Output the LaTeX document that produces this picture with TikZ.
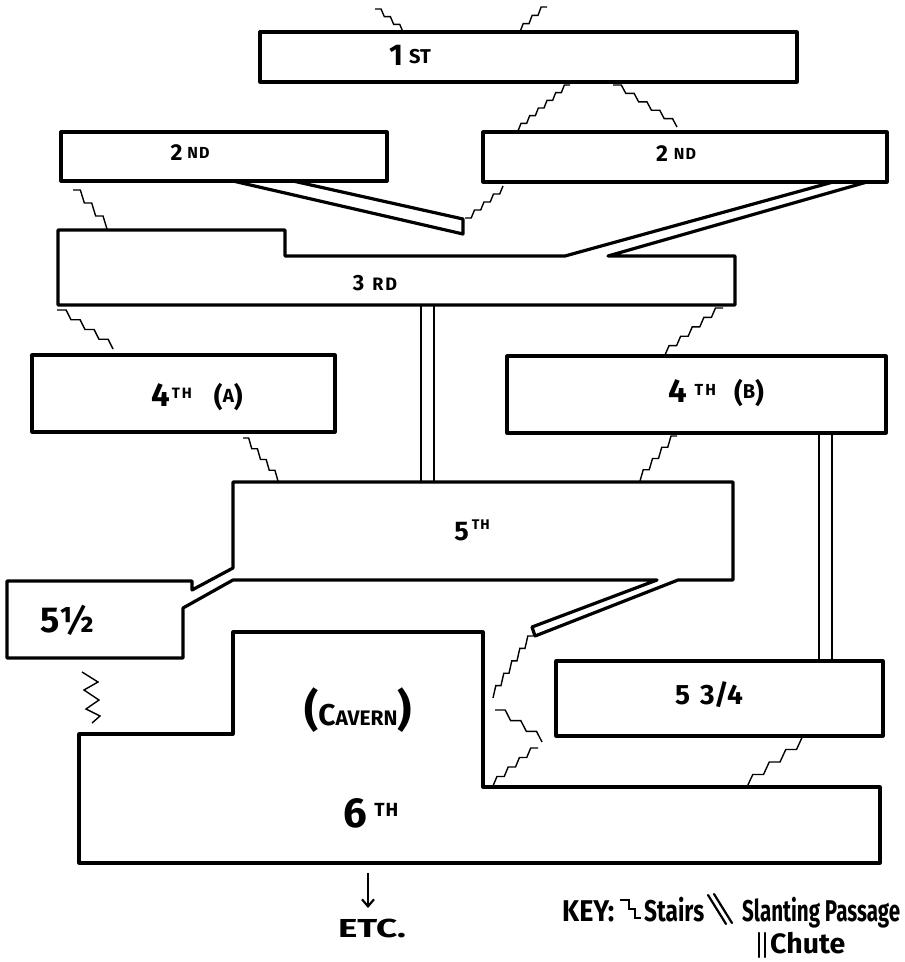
\documentclass[tikz,border=0pt]{standalone}
\usepackage{fontspec}
\setmainfont{Fira Sans}
\usepackage{graphicx}
\usetikzlibrary{arrows.meta,calc}
\newcommand\fs[1]{\fontsize{#1}{#1}\selectfont}
\newcommand\stairsfrom[3]{%
  \path (#1); \pgfgetlastxy{\stxa}{\stya}%
  \path (#2); \pgfgetlastxy{\stxb}{\styb}%
  \pgfmathsetmacro\stdx{(\stxb-\stxa)/#3}%
  \pgfmathsetmacro\stdy{(\styb-\stya)/#3}%
  \draw[stairline] (#1) \foreach \k in {1,...,#3}{ -- ++({0.65*(\stdx)*1pt},0pt) -- ++({0.35*(\stdx)*1pt},{(\stdy)*1pt})};%
}
\begin{document}
\begin{tikzpicture}[x=1pt,y=-1pt,
  wall/.style={line width=3.2pt,line join=round,line cap=round},
  chuteline/.style={line width=2.8pt},
  stairline/.style={line width=1.4pt,line join=miter},
  keyline/.style={line width=2.2pt,line cap=round},
  lbl/.style={inner sep=0pt,font=\bfseries},
  keytext/.style={inner sep=0pt,anchor=base west,font=\bfseries\fs{30}}]
\useasboundingbox[fill=white] (0,0) rectangle (905,962);

% chutes
\draw[chuteline] (421,305) -- (421,482);
\draw[chuteline] (434,305) -- (434,482);
\draw[chuteline] (819,433) -- (819,661);
\draw[chuteline] (832,433) -- (832,661);

% 1st
\draw[wall] (260,32) rectangle (797,82);
% 2nd left and right
\draw[wall] (61,132) rectangle (387,181);
\draw[wall] (483,132) rectangle (887,182);
% slanting passage from 2nd left
\draw[wall] (293,181) -- (463,219) -- (463,234) -- (233,181);
% 3rd with passage to 2nd right
\draw[wall] (867,182) -- (608,256) -- (735,256) -- (735,305) -- (58,305) -- (58,230)
  -- (285,230) -- (285,256) -- (565,256) -- (833,182);
% 4th A, 4th B
\draw[wall] (32,355) rectangle (335,432);
\draw[wall] (507,356) rectangle (886,433);
% 5th with 5 1/2 and passage
\draw[wall] (233,568) -- (233,482) -- (733,482) -- (733,580) -- (678,580) -- (535,636)
  -- (532,627) -- (657,580) -- (233,580) -- (183,608) -- (183,658) -- (7,658)
  -- (7,581) -- (192,581) -- (192,590) -- cycle;
% 5 3/4
\draw[wall] (556,661) rectangle (883,736);
% cavern / 6th
\draw[wall] (233,632) -- (483,632) -- (483,787) -- (880,787) -- (880,863) -- (79,863)
  -- (79,734) -- (233,734) -- cycle;

% stair end points
\coordinate (sa1) at (375,9);   \coordinate (sa2) at (403,32);
\coordinate (sb1) at (547,7);   \coordinate (sb2) at (520,32);
\coordinate (sc1) at (570,85);  \coordinate (sc2) at (518,131);
\coordinate (sd1) at (613,85);  \coordinate (sd2) at (677,127);
\coordinate (se1) at (73,190);  \coordinate (se2) at (107,229);
\coordinate (sf1) at (465,218); \coordinate (sf2) at (503,186);
\coordinate (sg1) at (57,310);  \coordinate (sg2) at (113,349);
\coordinate (sh1) at (723,308); \coordinate (sh2) at (665,355);
\coordinate (si1) at (243,438); \coordinate (si2) at (278,481);
\coordinate (sj1) at (677,436); \coordinate (sj2) at (640,481);
\coordinate (sk1) at (533,636); \coordinate (sk2) at (493,698);
\coordinate (sl1) at (495,710); \coordinate (sl2) at (542,742);
\coordinate (sm1) at (538,748); \coordinate (sm2) at (493,786);
\coordinate (sn1) at (813,737); \coordinate (sn2) at (747,787);
\stairsfrom{sa1}{sa2}{3}
\stairsfrom{sb1}{sb2}{3}
\stairsfrom{sc1}{sc2}{6}
\stairsfrom{sd1}{sd2}{5}
\stairsfrom{se1}{se2}{3}
\stairsfrom{sf1}{sf2}{4}
\stairsfrom{sg1}{sg2}{4}
\stairsfrom{sh1}{sh2}{5}
\stairsfrom{si1}{si2}{4}
\stairsfrom{sj1}{sj2}{4}
\stairsfrom{sk1}{sk2}{5}
\stairsfrom{sl1}{sl2}{3}
\stairsfrom{sm1}{sm2}{4}
\stairsfrom{sn1}{sn2}{4}
% zigzag stairs 5 1/2 to cavern
\coordinate (zz1) at (82,672); \coordinate (zz2) at (92,723);
\draw[stairline] (zz1) -- (98,682) -- (84,690) -- (99,700) -- (86,709) -- (100,716) -- (zz2);

% labels
\node[lbl] (t1) at (410,55) {\fs{30}1\hspace{6pt}\raisebox{2pt}{\fs{20}ST}};
\node[lbl] (t2a) at (190,153) {\fs{23}2\hspace{5pt}\raisebox{2pt}{\fs{16}N\hspace{1pt}D}};
\node[lbl] (t2b) at (676,154) {\fs{23}2\hspace{6pt}\raisebox{2pt}{\fs{16}N\hspace{1pt}D}};
\node[lbl] (t3) at (375,283) {\fs{22}3\hspace{8pt}\fs{18}R\hspace{2pt}D};
\node[lbl] (t4a) at (197,397) {\fs{33}4\hspace{2pt}\raisebox{8pt}{\fs{15}T\hspace{2pt}H}\hspace{22pt}\fs{27}(\raisebox{4pt}{\fs{19}A})};
\node[lbl] (t4b) at (716,393) {\fs{33}4\hspace{8pt}\raisebox{7pt}{\fs{16}T\hspace{2pt}H}\hspace{18pt}\fs{27}(\raisebox{4pt}{\fs{20}B})};
\node[lbl] (t5) at (472,530) {\fs{27}5\hspace{3pt}\raisebox{11pt}{\fs{14}T\hspace{1pt}H}};
\node[lbl] (t5h) at (67,620) {\fs{36}5½};
\node[lbl] (t5q) at (709,695) {\fs{28}5\hspace{10pt}3/4};
\node[lbl] (tcav) at (358,710) {\fs{44}(\fs{30}C\fs{21}AVERN\fs{44})};
\node[lbl] (t6) at (371,813) {\fs{42}6\hspace{7pt}\raisebox{11pt}{\fs{19}T\hspace{1pt}H}};

% ETC
\node[lbl] (etc) at (372,928) {\resizebox{68pt}{\height}{\fs{26}ETC.}};
\coordinate (arrtop) at (368,873); \coordinate (arrbot) at (368,908);
\draw[line width=2.2pt,-{Straight Barb[length=7pt,width=12pt]}] (arrtop) -- (arrbot);

% key
\node[keytext] (kkey) at (562,921) {\resizebox{52pt}{\height}{KEY:}};
\coordinate (ks1) at (620,900); \coordinate (ks2) at (641,918);
\draw[keyline,line cap=butt] (ks1) -- (629,900) -- (629,909) -- (635,909) -- (635,918) -- (ks2);
\node[keytext] (kstairs) at (644,921) {\resizebox{60pt}{\height}{Stairs}};
\coordinate (kp1) at (708,895); \coordinate (kp2) at (726,924);
\coordinate (kp3) at (714,894); \coordinate (kp4) at (732,923);
\draw[keyline] (kp1) -- (kp2);
\draw[keyline] (kp3) -- (kp4);
\node[keytext] (kslant) at (742,921) {\resizebox{158pt}{\height}{Slanting Passage}};
\coordinate (kc1) at (759,933); \coordinate (kc2) at (759,957);
\coordinate (kc3) at (765,933); \coordinate (kc4) at (765,957);
\draw[keyline] (kc1) -- (kc2);
\draw[keyline] (kc3) -- (kc4);
\node[keytext,font=\bfseries\fs{28}] (kchute) at (770,953) {\resizebox{75pt}{\height}{Chute}};
\end{tikzpicture}
\end{document}
